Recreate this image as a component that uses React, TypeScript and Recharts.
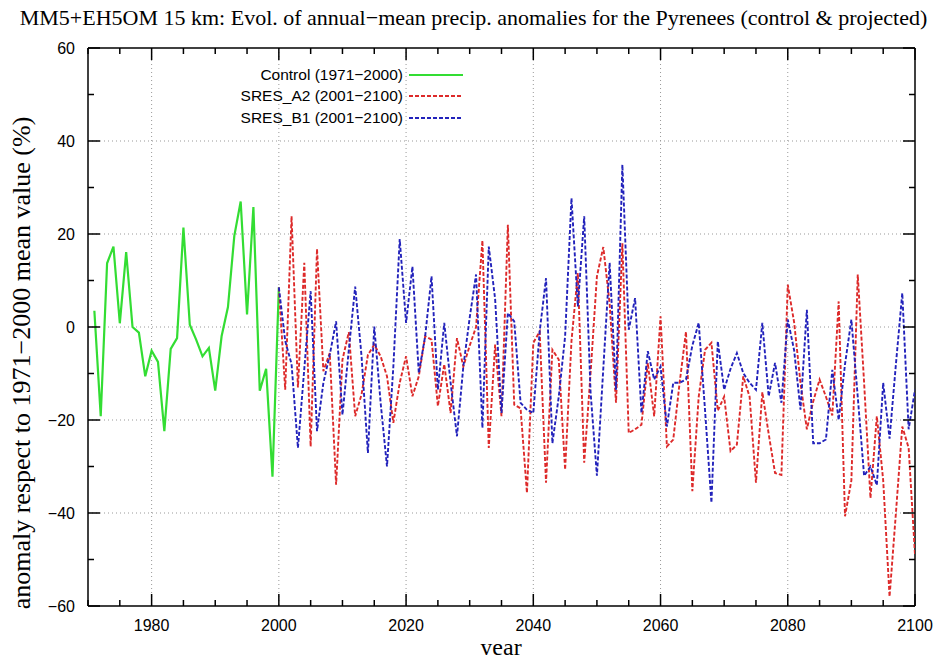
import React from 'react';
import { LineChart, Line, XAxis, YAxis, CartesianGrid, ReferenceLine, Legend } from 'recharts';

// anomalies in %
const controlStart = 1971;
const controlValues = [
  3.5, -19.2, 13.7, 17.3, 0.8, 16.1, 0, -1.2, -10.6, -5.1,
  -7.5, -22.4, -4.7, -2.4, 21.4, 0.5, -2.7, -6.3, -4.5, -13.7,
  -2, 4.3, 19.6, 27, 2.7, 25.8, -13.7, -9, -32.2, 8.5,
];

const projStart = 2000;
const a2Values = [
  8.5, -13.5, 23.8, -13, 13.8, -25.7, 16.8, -9.5, -5.6, -33.9,
  -7, -1.1, -19.2, -14.5, -6, -3.8, -6.3, -10.6, -20.6, -12,
  -6.3, -14.9, -10.6, -2, -2.7, -17, -8, -18.5, -2.4, -8.5,
  -4, 0, 18.6, -26, -3.8, -19.2, 22, -16.7, -17.5, -35.7,
  -3.4, -1, -33.5, -4.9, -7, -30.7, -3, 11.6, -29.2, -10,
  10.9, 17.2, 5, -16.3, 18, -22.8, -22, -21, -7.7, -19.2,
  2.3, -25.7, -24.2, -12, -1, -35.3, -15, -4.9, -3.4, -18,
  -15, -26.7, -25.3, -10.6, -15, -33.5, -14, -23, -31.4, -31.8,
  9.1, 1, -12, -22, -16, -11.3, -15, -19, 5.5, -40.7,
  -33, 11.3, -12, -36.8, -19.2, -33, -58, -40, -21.4, -26,
  -49,
];
const b1Values = [
  8.5, -3, -8, -26, -9, 7.7, -22.4, -12, -6, 1.2,
  -18.9, -4.9, 8.7, -6.3, -27.1, 0.1, -16.3, -30, -8.5, 18.9,
  0.9, 13, -9.9, -2, 10.9, -13.5, 0.9, -12, -23.5, -8.5,
  2, 11.3, -21.7, 17.3, 6, -18.5, 3, 1.2, -16.3, -17.8,
  -18.5, -1, 10.5, -25, -15, -2, 27.7, 4.4, 23.8, -14,
  -32, -9, 13.8, -13.5, 34.9, -0.6, 6.2, -18.5, -5.2, -11.3,
  -8.5, -21.4, -12, -12, -11.3, -4, 0.9, -18, -37.8, -3.1,
  -13.5, -9, -5.6, -9.9, -12, -13.5, 0.9, -14.9, -7.7, -16.3,
  1.6, -5, -17.8, 3.7, -25, -25, -24.2, -9.2, -20, -8,
  1.6, -15, -32, -30, -34, -12, -24, -8, 7.3, -22,
  -13.5,
];

const xTicks = [1970, 1975, 1980, 1985, 1990, 1995, 2000, 2005, 2010, 2015, 2020, 2025, 2030, 2035, 2040, 2045, 2050, 2055, 2060, 2065, 2070, 2075, 2080, 2085, 2090, 2095, 2100];
const yTicks = [-60, -50, -40, -30, -20, -10, 0, 10, 20, 30, 40, 50, 60];
const xGrid = [1980, 2000, 2020, 2040, 2060, 2080];
const yGrid = [-40, -20, 0, 20, 40];

const series = [
  { key: 'control', name: 'Control (1971\u22122000)', color: '#33dd33', dash: undefined },
  { key: 'a2', name: 'SRES_A2 (2001\u22122100)', color: '#dd2a2a', dash: '4 2' },
  { key: 'b1', name: 'SRES_B1 (2001\u22122100)', color: '#2222bb', dash: '4 2' },
];

const data: any[] = [];
for (let y = controlStart; y <= 2100; y++) {
  const row: any = { year: y };
  const ci = y - controlStart;
  if (ci < controlValues.length) row.control = controlValues[ci];
  const pi = y - projStart;
  if (pi >= 0) {
    row.a2 = a2Values[pi];
    row.b1 = b1Values[pi];
  }
  data.push(row);
}

const W = 925;
const H = 647;
const PLOT_W = 827;
const PLOT_H = 558;
const sans = '"Liberation Sans", Arial, sans-serif';
const serif = '"Liberation Serif", "Times New Roman", serif';

const XTick = (props: any) => {
  const { x, y, payload } = props;
  const v = payload.value;
  const major = v % 20 === 0;
  const len = major ? 12 : 6;
  return (
    <g>
      <line x1={x} x2={x} y1={y} y2={y - len} stroke="#000" strokeWidth={1.5} />
      <line x1={x} x2={x} y1={y - PLOT_H} y2={y - PLOT_H + len} stroke="#000" strokeWidth={1.5} />
      {major && v !== 1970 && (
        <text x={x} y={y + 25} textAnchor="middle" fontFamily={sans} fontSize={16} fill="#000">
          {v}
        </text>
      )}
    </g>
  );
};

const YTick = (props: any) => {
  const { x, y, payload } = props;
  const v = payload.value;
  const major = v % 20 === 0;
  const len = major ? 12 : 6;
  return (
    <g>
      <line x1={x} x2={x + len} y1={y} y2={y} stroke="#000" strokeWidth={1.5} />
      <line x1={x + PLOT_W - len} x2={x + PLOT_W} y1={y} y2={y} stroke="#000" strokeWidth={1.5} />
      {major && (
        <text x={x - 13} y={y + 6} textAnchor="end" fontFamily={sans} fontSize={16} fill="#000">
          {v < 0 ? '\u2212' + Math.abs(v) : v}
        </text>
      )}
    </g>
  );
};

const LegendBox = () => (
  <div style={{ fontFamily: sans, fontSize: 15.5 }}>
    {series.map((s) => (
      <div key={s.key} style={{ display: 'flex', alignItems: 'center', height: 21.5 }}>
        <span style={{ width: 225, textAlign: 'right', whiteSpace: 'nowrap' }}>{s.name}</span>
        <svg width={58} height={10} style={{ marginLeft: 6 }}>
          <line x1={0} x2={54} y1={5} y2={5} stroke={s.color} strokeWidth={2} strokeDasharray={s.dash} />
        </svg>
      </div>
    ))}
  </div>
);

export default function App() {
  return (
    <div style={{ position: 'relative', width: W, height: H }}>
      <LineChart width={W} height={H} data={data} margin={{ top: 40, right: 18, left: 0, bottom: 0 }}>
        <CartesianGrid
          stroke="#999"
          strokeDasharray="1 3"
          verticalValues={xGrid}
          horizontalValues={yGrid}
        />
        <XAxis
          type="number"
          dataKey="year"
          domain={[1970, 2100]}
          ticks={xTicks}
          interval={0}
          height={49}
          tickSize={0}
          tickMargin={0}
          tickLine={false}
          axisLine={{ stroke: '#000', strokeWidth: 1.5 }}
          tick={<XTick />}
          allowDataOverflow
        />
        <YAxis
          type="number"
          domain={[-60, 60]}
          ticks={yTicks}
          interval={0}
          width={80}
          tickSize={0}
          tickMargin={0}
          tickLine={false}
          axisLine={{ stroke: '#000', strokeWidth: 1.5 }}
          tick={<YTick />}
          allowDataOverflow
        />
        <ReferenceLine y={60} stroke="#000" strokeWidth={1.5} />
        <ReferenceLine x={2100} stroke="#000" strokeWidth={1.5} />
        <Legend
          layout="vertical"
          align="center"
          verticalAlign="middle"
          content={<LegendBox />}
          wrapperStyle={{ left: 170, top: 56, width: 300 }}
        />
        {series.map((s) => (
          <Line
            key={s.key}
            dataKey={s.key}
            name={s.name}
            stroke={s.color}
            strokeWidth={s.dash ? 1.9 : 2.2}
            strokeDasharray={s.dash}
            dot={false}
            activeDot={false}
            connectNulls={false}
            isAnimationActive={false}
          />
        ))}
      </LineChart>
      <div
        style={{
          position: 'absolute', left: 0, top: -1, width: W + 6, textAlign: 'center',
          fontFamily: serif, fontSize: 22, lineHeight: '22px', whiteSpace: 'nowrap',
        }}
      >
        MM5+EH5OM 15 km: Evol. of annual{'\u2212'}mean precip. anomalies for the Pyrenees (control &amp; projected)
      </div>
      <div
        style={{
          position: 'absolute', left: 14, top: 355, transform: 'translate(-50%, -50%) rotate(-90deg)',
          fontFamily: serif, fontSize: 26, lineHeight: '28px', whiteSpace: 'nowrap',
        }}
      >
        anomaly respect to 1971{'\u2212'}2000 mean value (%)
      </div>
      <div
        style={{
          position: 'absolute', left: 493, top: 639, transform: 'translate(-50%, -50%)',
          fontFamily: serif, fontSize: 24, lineHeight: '24px', whiteSpace: 'nowrap',
        }}
      >
        year
      </div>
    </div>
  );
}
